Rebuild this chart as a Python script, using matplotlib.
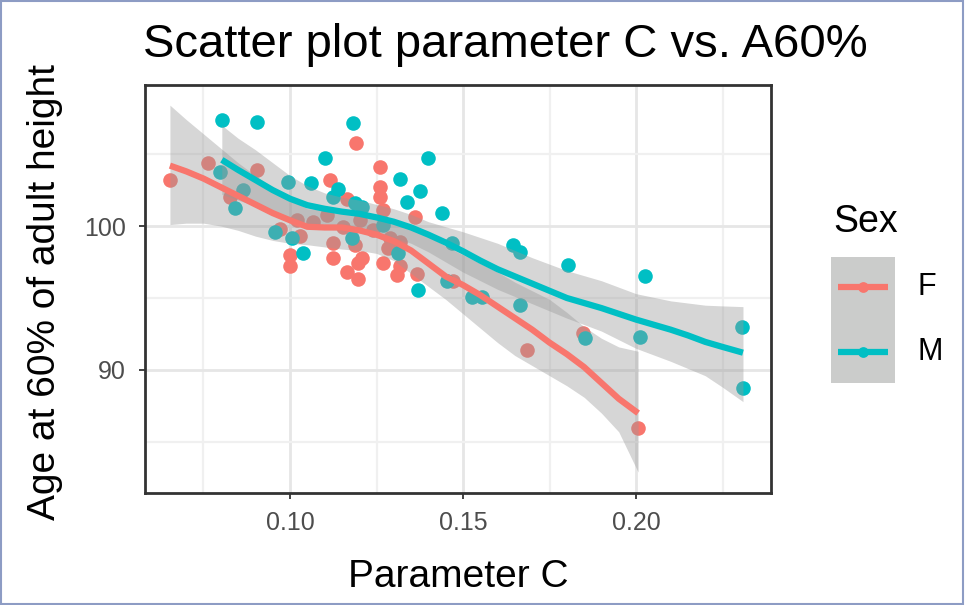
import numpy as np
import matplotlib.pyplot as plt
from matplotlib.patches import Rectangle
from matplotlib.lines import Line2D

plt.rcParams['font.family'] = ['Liberation Sans', 'DejaVu Sans']

# ---- data ----
f_param_c = [0.0653, 0.0763, 0.0905, 0.100, 0.100, 0.1116, 0.1191, 0.126, 0.126, 0.126,
             0.1165, 0.136, 0.1124, 0.1124, 0.1188, 0.1208, 0.1197, 0.1165, 0.1197, 0.1269,
             0.1283, 0.1318, 0.1309, 0.1367, 0.1471, 0.1685, 0.1847, 0.2006, 0.0827, 0.102,
             0.1066, 0.0971, 0.1029, 0.1153, 0.1202, 0.1269, 0.124, 0.1289, 0.1318, 0.1107]
f_age60 = [103.2, 104.4, 103.9, 98.0, 97.2, 103.2, 105.8, 104.1, 102.7, 102.0,
           101.9, 100.6, 98.8, 97.8, 98.7, 97.8, 97.4, 96.8, 96.3, 97.4,
           98.5, 97.2, 96.6, 96.7, 96.2, 91.4, 92.6, 86.0, 102.0, 100.4,
           100.3, 99.8, 99.3, 99.9, 100.4, 101.1, 99.7, 99.2, 98.9, 100.8]

m_param_c = [0.0803, 0.0905, 0.0798, 0.0864, 0.0841, 0.0994, 0.1061, 0.1101, 0.1139, 0.1124,
             0.1182, 0.1188, 0.0957, 0.1006, 0.1038, 0.1399, 0.1318, 0.1376, 0.1338, 0.1439,
             0.1208, 0.1312, 0.137, 0.1179, 0.1468, 0.1645, 0.1665, 0.1803, 0.1454, 0.1526,
             0.1555, 0.1665, 0.1853, 0.2026, 0.2012, 0.2306, 0.2309, 0.1269]
m_age60 = [107.4, 107.2, 103.75, 102.5, 101.25, 103.05, 103.0, 104.7, 102.6, 102.0,
           107.15, 101.6, 99.6, 99.2, 98.1, 104.7, 103.3, 102.4, 101.7, 100.9,
           101.3, 98.1, 95.55, 99.2, 98.8, 98.7, 98.2, 97.3, 96.2, 95.1,
           95.1, 94.5, 92.2, 96.5, 92.3, 93.0, 88.75, 100.1]

# loess smooth + confidence band
f_smooth_x = [0.0653, 0.070, 0.075, 0.080, 0.085, 0.090, 0.095, 0.100, 0.105, 0.110,
              0.115, 0.120, 0.125, 0.130, 0.135, 0.140, 0.145, 0.150, 0.155, 0.160,
              0.165, 0.170, 0.175, 0.180, 0.185, 0.190, 0.195, 0.2006]
f_smooth_y = [104.2, 103.8, 103.3, 102.7, 102.1, 101.5, 100.9, 100.4, 99.95, 99.9,
              99.9, 99.7, 99.4, 98.95, 98.3, 97.4, 96.5, 95.9, 95.2, 94.4,
              93.6, 92.8, 91.9, 91.1, 90.2, 89.1, 88.0, 87.0]
f_smooth_lo = [100.1, 100.2, 100.2, 100.0, 99.7, 99.3, 99.0, 98.8, 98.7, 98.55,
               98.4, 98.3, 98.1, 97.6, 96.7, 95.8, 94.9, 93.9, 92.9, 91.9,
               91.0, 90.3, 89.6, 88.9, 88.1, 87.0, 85.7, 82.9]
f_smooth_hi = [108.4, 107.4, 106.4, 105.4, 104.4, 103.5, 102.7, 101.9, 101.2, 101.15,
               101.1, 100.9, 100.7, 100.3, 99.9, 99.3, 98.6, 98.0, 97.4, 96.8,
               96.1, 95.5, 94.9, 94.0, 93.0, 92.2, 91.6, 91.3]

m_smooth_x = [0.0803, 0.085, 0.09, 0.095, 0.10, 0.105, 0.11, 0.115, 0.12, 0.125,
              0.13, 0.135, 0.14, 0.145, 0.15, 0.155, 0.16, 0.165, 0.17, 0.175,
              0.18, 0.185, 0.19, 0.195, 0.20, 0.205, 0.21, 0.215, 0.22, 0.225, 0.2309]
m_smooth_y = [104.6, 103.9, 103.2, 102.5, 101.9, 101.45, 101.2, 101.0, 100.85, 100.6,
              100.3, 99.9, 99.4, 98.85, 98.25, 97.6, 97.0, 96.5, 96.0, 95.5,
              95.0, 94.65, 94.3, 93.9, 93.5, 93.15, 92.8, 92.4, 91.95, 91.6, 91.2]
m_smooth_lo = [102.2, 101.8, 101.4, 100.9, 100.4, 100.05, 99.8, 99.7, 99.6, 99.4,
               99.2, 98.8, 98.2, 97.5, 96.8, 96.2, 95.6, 95.1, 94.6, 94.1,
               93.6, 93.15, 92.7, 92.1, 91.5, 91.05, 90.6, 90.1, 89.6, 88.8, 87.8]
m_smooth_hi = [107.0, 106.1, 105.3, 104.4, 103.5, 102.8, 102.3, 102.0, 101.8, 101.5,
               101.2, 100.8, 100.3, 99.95, 99.6, 99.2, 98.8, 98.3, 97.8, 97.35,
               96.9, 96.55, 96.2, 95.75, 95.3, 95.05, 94.8, 94.65, 94.5, 94.45, 94.4]

sex_labels = ['F', 'M']
sex_colors = ['#F8766D', '#00BFC4']

x_ticks = [0.10, 0.15, 0.20]
x_tick_labels = ['0.10', '0.15', '0.20']
y_ticks = [90, 100]

# ---- figure ----
W, H = 965, 605
fig = plt.figure(figsize=(W / 100, H / 100), dpi=100)
fig.patch.set_facecolor('white')
fig.patches.append(Rectangle((0.001, 0.001), 0.997, 0.997, transform=fig.transFigure,
                             fill=False, edgecolor='#8d9cc4', linewidth=1.5))

ax = fig.add_axes([145 / W, 1 - 493 / H, (771 - 145) / W, (493 - 85) / H])
ax.set_xlim(0.0581, 0.2390)
ax.set_ylim(81.45, 109.8)

band_color = (0.6, 0.6, 0.6, 0.4)
for xs, ys, cs in [(f_param_c, f_age60, sex_colors[0]), (m_param_c, m_age60, sex_colors[1])]:
    ax.scatter(xs, ys, s=110, color=cs, marker='o', linewidths=0, zorder=3)

ax.fill_between(f_smooth_x, f_smooth_lo, f_smooth_hi, color=band_color, linewidth=0, zorder=4)
ax.fill_between(m_smooth_x, m_smooth_lo, m_smooth_hi, color=band_color, linewidth=0, zorder=4)
ax.plot(f_smooth_x, f_smooth_y, color=sex_colors[0], linewidth=4.5, zorder=5,
        solid_capstyle='butt', solid_joinstyle='round')
ax.plot(m_smooth_x, m_smooth_y, color=sex_colors[1], linewidth=4.5, zorder=5,
        solid_capstyle='butt', solid_joinstyle='round')

# grid like theme_bw
ax.set_xticks(x_ticks)
ax.set_xticklabels(x_tick_labels)
ax.set_yticks(y_ticks)
ax.set_xticks([0.075, 0.125, 0.175, 0.225], minor=True)
ax.set_yticks([85, 95, 105], minor=True)
ax.grid(which='major', color='#e6e6e6', linewidth=2.0, zorder=0)
ax.grid(which='minor', color='#f0f0f0', linewidth=1.6, zorder=0)
ax.set_axisbelow(True)
ax.tick_params(which='minor', length=0)
ax.tick_params(which='major', length=4, width=1.3, color='#333333',
               labelsize=18, labelcolor='#4d4d4d')
ax.tick_params(axis='x', pad=9)
ax.tick_params(axis='y', pad=10)
for sp in ax.spines.values():
    sp.set_color('#333333')
    sp.set_linewidth(2.0)

fig.text(458 / W, 1 - 577 / H, 'Parameter C', fontsize=28, ha='center', va='center')
fig.text(45 / W, 1 - 292 / H, 'Age at 60% of adult height', fontsize=28,
         ha='center', va='center', rotation=90)
fig.text(143 / W, 1 - 45 / H, 'Scatter plot parameter C vs. A60%', fontsize=34,
         ha='left', va='center')

# legend drawn by hand
fig.text(833 / W, 1 - 222 / H, 'Sex', fontsize=27, ha='left', va='center')
lax = fig.add_axes([831 / W, 1 - 383 / H, (895 - 831) / W, (383 - 257) / H])
lax.set_xlim(0, 1)
lax.set_ylim(0, 1)
lax.set_facecolor('#cbcccb')
for sp in lax.spines.values():
    sp.set_visible(False)
lax.set_xticks([])
lax.set_yticks([])
key_y = [1 - (287 - 257) / 126, 1 - (352 - 257) / 126]
for lab, col, ky in zip(sex_labels, sex_colors, key_y):
    lax.add_line(Line2D([0.11, 0.89], [ky, ky], color=col, linewidth=4.5,
                        solid_capstyle='butt'))
    lax.scatter([0.5], [ky], s=60, color=col, linewidths=0, zorder=3)
    fig.text(917 / W, 1 - (257 + (1 - ky) * 126) / H, lab, fontsize=22,
             ha='left', va='center')

fig.savefig('out.png', dpi=100)
